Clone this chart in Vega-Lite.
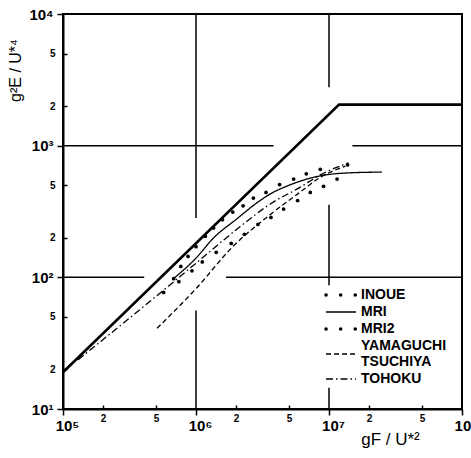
{
  "$schema": "https://vega.github.io/schema/vega-lite/v6.json",
  "width": 399,
  "height": 395,
  "autosize": "none",
  "padding": {"left": 63, "top": 14, "right": 9, "bottom": 49},
  "background": "white",
  "config": {
    "view": {"stroke": "black", "strokeWidth": 2},
    "font": "Liberation Sans",
    "axis": {
      "grid": false,
      "domainColor": "black",
      "domainWidth": 2,
      "tickColor": "black",
      "tickWidth": 1.5,
      "labelColor": "black",
      "labelFont": "Liberation Sans",
      "labelFontWeight": "bold",
      "labelOverlap": false,
      "labelFlush": false,
      "labelBound": false,
      "titleColor": "black",
      "titleFont": "Liberation Sans",
      "titleFontWeight": "normal"
    }
  },
  "datasets": {
    "grid": [
      {"F": 1000000, "F2": 1000000, "E": 10000, "E2": 282},
      {"F": 1000000, "F2": 1000000, "E": 56, "E2": 10},
      {"F": 10000000, "F2": 10000000, "E": 10000, "E2": 2780},
      {"F": 10000000, "F2": 10000000, "E": 356, "E2": 87},
      {"F": 10000000, "F2": 10000000, "E": 14.5, "E2": 10},
      {"F": 100000, "F2": 3830000, "E": 1000, "E2": 1000},
      {"F": 15000000, "F2": 100000000, "E": 1000, "E2": 1000},
      {"F": 100000, "F2": 408000, "E": 100, "E2": 100},
      {"F": 1680000, "F2": 100000000, "E": 100, "E2": 100}
    ],
    "limit": [
      {"F": 100000, "E": 19},
      {"F": 11900000, "E": 2050},
      {"F": 100000000, "E": 2050}
    ],
    "curves": [
      {"series": "MRI", "F": 680000, "E": 98},
      {"series": "MRI", "F": 1000000, "E": 140},
      {"series": "MRI", "F": 1360000, "E": 200},
      {"series": "MRI", "F": 2000000, "E": 275},
      {"series": "MRI", "F": 3000000, "E": 380},
      {"series": "MRI", "F": 3620000, "E": 430},
      {"series": "MRI", "F": 5000000, "E": 500},
      {"series": "MRI", "F": 8600000, "E": 590},
      {"series": "MRI", "F": 14400000, "E": 622},
      {"series": "MRI", "F": 25000000, "E": 630},
      {"series": "YAMAGUCHI TSUCHIYA", "F": 509000, "E": 41},
      {"series": "YAMAGUCHI TSUCHIYA", "F": 1000000, "E": 82},
      {"series": "YAMAGUCHI TSUCHIYA", "F": 1900000, "E": 172},
      {"series": "YAMAGUCHI TSUCHIYA", "F": 3620000, "E": 300},
      {"series": "YAMAGUCHI TSUCHIYA", "F": 6000000, "E": 440},
      {"series": "YAMAGUCHI TSUCHIYA", "F": 8600000, "E": 575},
      {"series": "YAMAGUCHI TSUCHIYA", "F": 13300000, "E": 700},
      {"series": "TOHOKU", "F": 130000, "E": 23.7},
      {"series": "TOHOKU", "F": 450000, "E": 65.6},
      {"series": "TOHOKU", "F": 1000000, "E": 128},
      {"series": "TOHOKU", "F": 2150000, "E": 243},
      {"series": "TOHOKU", "F": 3620000, "E": 361},
      {"series": "TOHOKU", "F": 6000000, "E": 480},
      {"series": "TOHOKU", "F": 8600000, "E": 600},
      {"series": "TOHOKU", "F": 14000000, "E": 740}
    ],
    "inoue": [
      {"F": 679000, "E": 97.6},
      {"F": 769000, "E": 121},
      {"F": 871000, "E": 144},
      {"F": 1000000, "E": 171},
      {"F": 1175000, "E": 205},
      {"F": 1356000, "E": 237},
      {"F": 1580000, "E": 274},
      {"F": 1890000, "E": 313},
      {"F": 2260000, "E": 349},
      {"F": 2700000, "E": 400},
      {"F": 3360000, "E": 441},
      {"F": 4250000, "E": 507},
      {"F": 5420000, "E": 558},
      {"F": 6750000, "E": 611},
      {"F": 8600000, "E": 661},
      {"F": 13800000, "E": 715}
    ],
    "mri2": [
      {"F": 571000, "E": 76.8},
      {"F": 743000, "E": 92.6},
      {"F": 933000, "E": 112},
      {"F": 1115000, "E": 131},
      {"F": 1420000, "E": 155},
      {"F": 1840000, "E": 181},
      {"F": 2310000, "E": 212},
      {"F": 2920000, "E": 252},
      {"F": 3660000, "E": 285},
      {"F": 4560000, "E": 330},
      {"F": 5810000, "E": 383},
      {"F": 7230000, "E": 441},
      {"F": 9100000, "E": 491},
      {"F": 11500000, "E": 558}
    ]
  },
  "encoding": {
    "x": {
      "field": "F",
      "type": "quantitative",
      "scale": {"type": "log", "domain": [100000, 100000000], "nice": false},
      "axis": {
        "title": "gF / U*²",
        "titleFontSize": 17,
        "titleX": 327,
        "titleY": 30,
        "titleAlign": "center",
        "titleBaseline": "middle",
        "values": [100000, 200000, 500000, 1000000, 2000000, 5000000, 10000000, 20000000, 50000000, 100000000],
        "labelExpr": "abs(log(datum.value) / LN10 - round(log(datum.value) / LN10)) < 0.001 ? '10' + substring('⁰¹²³⁴⁵⁶⁷⁸⁹', round(log(datum.value) / LN10), round(log(datum.value) / LN10) + 1) : '' + round(datum.value / pow(10, floor(log(datum.value) / LN10 + 0.000001)))",
        "tickSize": {"condition": {"test": "abs(log(datum.value) / LN10 - round(log(datum.value) / LN10)) < 0.001", "value": 6}, "value": -4},
        "labelFontSize": {"condition": {"test": "abs(log(datum.value) / LN10 - round(log(datum.value) / LN10)) < 0.001", "value": 15}, "value": 10},
        "labelPadding": {"condition": {"test": "abs(log(datum.value) / LN10 - round(log(datum.value) / LN10)) < 0.001", "value": 3}, "value": 8},
        "labelOffset": {"condition": {"test": "abs(log(datum.value) / LN10 - round(log(datum.value) / LN10)) < 0.001", "value": 4}, "value": 0}
      }
    },
    "y": {
      "field": "E",
      "type": "quantitative",
      "scale": {"type": "log", "domain": [10, 10000], "nice": false},
      "axis": {
        "title": "g²E / U*⁴",
        "titleFontSize": 16,
        "titleAngle": -90,
        "titleX": -48,
        "titleY": 56,
        "titleAlign": "center",
        "titleBaseline": "middle",
        "values": [10, 20, 50, 100, 200, 500, 1000, 2000, 5000, 10000],
        "labelExpr": "abs(log(datum.value) / LN10 - round(log(datum.value) / LN10)) < 0.001 ? '10' + substring('⁰¹²³⁴⁵⁶⁷⁸⁹', round(log(datum.value) / LN10), round(log(datum.value) / LN10) + 1) : '' + round(datum.value / pow(10, floor(log(datum.value) / LN10 + 0.000001)))",
        "tickSize": {"condition": {"test": "abs(log(datum.value) / LN10 - round(log(datum.value) / LN10)) < 0.001", "value": 6}, "value": -4},
        "labelFontSize": {"condition": {"test": "abs(log(datum.value) / LN10 - round(log(datum.value) / LN10)) < 0.001", "value": 15}, "value": 10},
        "labelPadding": {"condition": {"test": "abs(log(datum.value) / LN10 - round(log(datum.value) / LN10)) < 0.001", "value": 4}, "value": 12}
      }
    }
  },
  "layer": [
    {
      "data": {"name": "grid"},
      "mark": {"type": "rule", "color": "black", "strokeWidth": 1.5},
      "encoding": {
        "x2": {"field": "F2"},
        "y2": {"field": "E2"}
      }
    },
    {
      "data": {"name": "limit"},
      "mark": {"type": "line", "color": "black", "strokeWidth": 2.6},
      "encoding": {}
    },
    {
      "data": {"name": "curves"},
      "mark": {"type": "line", "color": "black", "strokeWidth": 1.3, "interpolate": "monotone"},
      "encoding": {
        "strokeDash": {
          "field": "series",
          "type": "nominal",
          "scale": {
            "domain": ["INOUE", "MRI", "MRI2", "YAMAGUCHI TSUCHIYA", "TOHOKU"],
            "range": [[0.1, 14.5], [1, 0], [0.1, 14.5], [5, 3], [7, 3, 1.5, 3]]
          },
          "legend": {
            "orient": "none",
            "legendX": 256,
            "legendY": 274,
            "title": null,
            "padding": 0,
            "symbolType": "M-15,0H15",
            "symbolSize": 4,
            "symbolOffset": 15,
            "symbolStrokeWidth": 1.5,
            "symbolStrokeColor": "black",
            "symbolFillColor": "transparent",
            "labelFont": "Liberation Sans",
            "labelFontSize": 14,
            "labelFontWeight": "bold",
            "labelColor": "black",
            "labelOffset": 13,
            "labelExpr": "split(datum.label, ' ')",
            "rowPadding": 3,
            "encode": {
              "symbols": {
                "update": {
                  "stroke": {"value": "black"},
                  "fill": {"value": "transparent"},
                  "strokeWidth": {"signal": "datum.value === 'INOUE' || datum.value === 'MRI2' ? 3.5 : 1.5"},
                  "strokeCap": {"signal": "datum.value === 'INOUE' || datum.value === 'MRI2' ? 'round' : 'butt'"}
                }
              },
              "labels": {
                "update": {
                  "lineHeight": {"value": 16},
                  "dy": {"signal": "indexof(datum.value, ' ') > 0 ? -8 : 0"}
                }
              }
            }
          }
        }
      }
    },
    {
      "data": {"name": "inoue"},
      "mark": {"type": "point", "filled": true, "color": "black", "size": 14, "opacity": 1}
    },
    {
      "data": {"name": "mri2"},
      "mark": {"type": "point", "filled": true, "color": "black", "size": 14, "opacity": 1}
    }
  ]
}
